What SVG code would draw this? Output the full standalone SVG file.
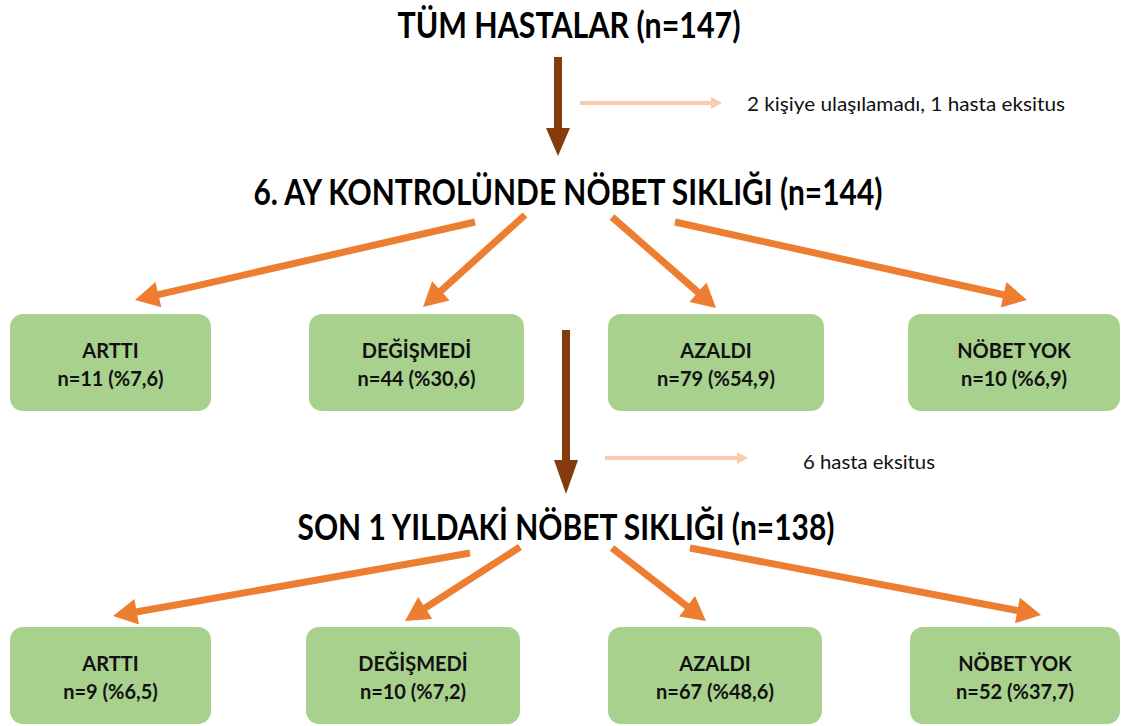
<svg xmlns="http://www.w3.org/2000/svg" width="1127" height="726" viewBox="0 0 1127 726">
<style>
.title{font-family:Lato,"Liberation Sans",sans-serif;font-weight:bold;font-size:36px;fill:#000;text-anchor:middle}
.side{font-family:Lato,"Liberation Sans",sans-serif;font-size:20px;fill:#111}
.box{fill:#a9d18e}
.bt{font-family:Lato,"Liberation Sans",sans-serif;font-weight:bold;font-size:20px;fill:#111;text-anchor:middle}
.or{stroke:#ed7d31;stroke-width:7;fill:none;marker-end:url(#ah)}
.br{fill:#843c0c}
.pe{stroke:#f8cbad;stroke-width:4;fill:none}
</style>
<defs>
<marker id="ah" markerUnits="userSpaceOnUse" markerWidth="26" markerHeight="26" viewBox="0 0 24 26" refX="8" refY="13" orient="auto">
<path d="M0,0 L24,13 L0,26 z" fill="#ed7d31"/>
</marker>
</defs>
<rect width="1127" height="726" fill="#fff"/>
<g id="title1"><text class="title" x="569" y="38" textLength="343" lengthAdjust="spacingAndGlyphs">TÜM HASTALAR (n=147)</text></g>
<g id="title2"><text class="title" x="568" y="205" textLength="629" lengthAdjust="spacingAndGlyphs">6. AY KONTROLÜNDE NÖBET SIKLIĞI (n=144)</text></g>
<g id="title3"><text class="title" x="566" y="540" textLength="537" lengthAdjust="spacingAndGlyphs">SON 1 YILDAKİ NÖBET SIKLIĞI (n=138)</text></g>
<g id="note1"><text class="side" x="747" y="111" textLength="318" lengthAdjust="spacingAndGlyphs">2 kişiye ulaşılamadı, 1 hasta eksitus</text></g>
<g id="note2"><text class="side" x="803" y="469" textLength="132" lengthAdjust="spacingAndGlyphs">6 hasta eksitus</text></g>
<g id="r1a"><rect class="box" x="10" y="314" width="201" height="97" rx="13"/><text class="bt" x="110.5" y="358">ARTTI</text><text class="bt" x="110.5" y="386">n=11 (%7,6)</text></g>
<g id="r1b"><rect class="box" x="309" y="314" width="215" height="97" rx="13"/><text class="bt" x="416.5" y="358">DEĞİŞMEDİ</text><text class="bt" x="416.5" y="386">n=44 (%30,6)</text></g>
<g id="r1c"><rect class="box" x="608" y="314" width="216" height="97" rx="13"/><text class="bt" x="716" y="358">AZALDI</text><text class="bt" x="716" y="386">n=79 (%54,9)</text></g>
<g id="r1d"><rect class="box" x="908" y="314" width="212" height="97" rx="13"/><text class="bt" x="1014" y="358">NÖBET YOK</text><text class="bt" x="1014" y="386">n=10 (%6,9)</text></g>
<g id="r2a"><rect class="box" x="10" y="627" width="201" height="97" rx="13"/><text class="bt" x="110.5" y="671">ARTTI</text><text class="bt" x="110.5" y="699">n=9 (%6,5)</text></g>
<g id="r2b"><rect class="box" x="306" y="627" width="214" height="97" rx="13"/><text class="bt" x="413" y="671">DEĞİŞMEDİ</text><text class="bt" x="413" y="699">n=10 (%7,2)</text></g>
<g id="r2c"><rect class="box" x="608" y="627" width="214" height="97" rx="13"/><text class="bt" x="715" y="671">AZALDI</text><text class="bt" x="715" y="699">n=67 (%48,6)</text></g>
<g id="r2d"><rect class="box" x="910" y="627" width="210" height="97" rx="13"/><text class="bt" x="1015" y="671">NÖBET YOK</text><text class="bt" x="1015" y="699">n=52 (%37,7)</text></g>
<g id="connectors">
<rect class="br" x="554" y="57" width="8" height="74"/>
<polygon class="br" points="546,128 570,128 558,156"/>
<rect class="br" x="562" y="330" width="8" height="132"/>
<polygon class="br" points="554,460 578,460 566,494"/>
<line class="pe" x1="580" y1="103" x2="713" y2="103"/>
<polygon fill="#f8cbad" points="711,97 722,103 711,109"/>
<line class="pe" x1="605" y1="458" x2="739" y2="458"/>
<polygon fill="#f8cbad" points="737,452 748,458 737,464"/>
<line class="or" x1="475" y1="222" x2="150.6" y2="296.4"/>
<line class="or" x1="525" y1="215" x2="434.9" y2="296.3"/>
<line class="or" x1="612" y1="217" x2="704" y2="297.5"/>
<line class="or" x1="675" y1="222" x2="1011.4" y2="296.5"/>
<line class="or" x1="470" y1="553" x2="128.8" y2="613.2"/>
<line class="or" x1="520" y1="547" x2="418.5" y2="612.3"/>
<line class="or" x1="612" y1="548" x2="693.4" y2="611.2"/>
<line class="or" x1="690" y1="548" x2="1025.3" y2="612"/>
</g>
</svg>
